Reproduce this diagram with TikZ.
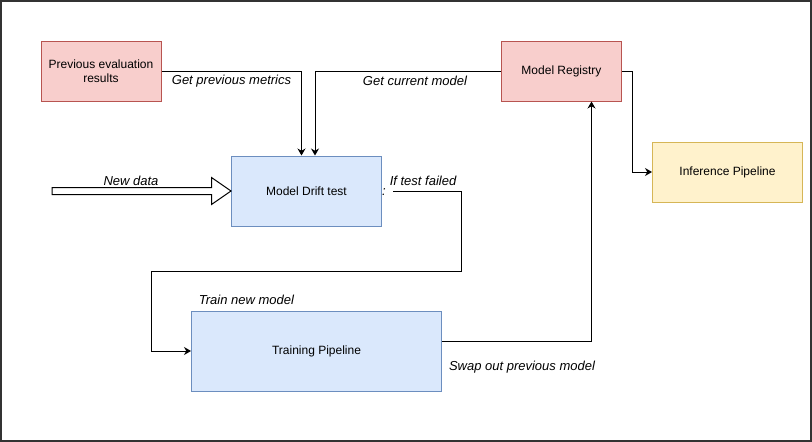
\documentclass[tikz,border=0pt]{standalone}
\usepackage{fontspec}
\setmainfont{Liberation Sans}
\usepackage{tikz}
\usetikzlibrary{positioning}
\usetikzlibrary{arrows.meta}
\definecolor{redfill}{HTML}{F8CECC}
\definecolor{redline}{HTML}{B85450}
\definecolor{bluefill}{HTML}{DAE8FC}
\definecolor{blueline}{HTML}{6C8EBF}
\definecolor{yellowfill}{HTML}{FFF2CC}
\definecolor{yellowline}{HTML}{D6B656}
\tikzstyle{basicblock} = [rectangle, line width=1pt, text centered, align=center, font=\fontsize{12}{14}\selectfont, inner sep=0pt]
\tikzstyle{store} = [basicblock, minimum width=120pt, minimum height=60pt, draw=redline, fill=redfill]
\tikzstyle{stage} = [basicblock, draw=blueline, fill=bluefill]
\tikzstyle{serve} = [basicblock, minimum width=150pt, minimum height=60pt, draw=yellowline, fill=yellowfill]
\tikzstyle{edgelabel} = [font=\fontsize{13}{15}\selectfont\itshape, inner sep=0pt, text height=9.3pt, text depth=2.7pt]
\tikzstyle{arrow} = [line width=1pt, -{Stealth[length=7pt,width=8pt]}]
\tikzstyle{hollow} = [line width=1pt, draw=black, fill=white, line join=miter]

\begin{document}
\begin{tikzpicture}[x=1pt, y=-1pt]

	\useasboundingbox (0,0) rectangle (812,442);
	\draw[line width=2pt, black!80] (1,1) rectangle (811,441);



	\node (prevResults) [store] at (101,71) {Previous evaluation\\results};

	\node (modelRegistry) [store] at (561.5,71) {Model Registry};

	\node (inferencePipe) [serve, below right=40pt and 30pt of modelRegistry] {Inference Pipeline};

	\node (driftTest) [stage, minimum width=150pt, minimum height=70pt] at (306.5,191) {Model Drift test};

	\node (trainPipe) [stage, minimum width=250pt, minimum height=80pt] at (316.5,351) {Training Pipeline};

	\coordinate (dataIn) at (52,191);
	\coordinate (failStart) at ([xshift=11pt]driftTest.east);
	\coordinate (failTurn) at (461,271);
	\coordinate (loopLeft) at (151,271);



	\draw [hollow] (dataIn) ++(0,-3.5) -- ++(159.5,0) -- ++(0,-10) -- (driftTest.west) -- ++(-19.5,13.5) -- ++(0,-10) -- ++(-159.5,0) -- cycle;

	\draw [arrow] (prevResults.east) -| ([xshift=-5pt]driftTest.north);
	\draw [arrow] (modelRegistry.west) -| ([xshift=8.5pt]driftTest.north);

	\draw [arrow] (modelRegistry.east) -- ++(10,0) |- (inferencePipe.west);

	\draw [arrow] (failStart) -| (failTurn) -- (loopLeft) |- (trainPipe.west);

	\draw [arrow] ([yshift=10pt]trainPipe.east) -| ([xshift=30pt]modelRegistry.south);



	\node (newDataLbl) [edgelabel] at (131,182) {New data};
	\node (prevLbl) [edgelabel] at (231.5,81) {Get previous metrics};
	\node (currentLbl) [edgelabel] at (415,82) {Get current model};
	\node (failLbl) [edgelabel] at (423,182) {If test failed};
	\node (colonLbl) [edgelabel] at (384,192) {:};
	\node (trainLbl) [edgelabel] at (246.5,301) {Train new model};
	\node (swapLbl) [edgelabel] at (522,367) {Swap out previous model};

\end{tikzpicture}
\end{document}
